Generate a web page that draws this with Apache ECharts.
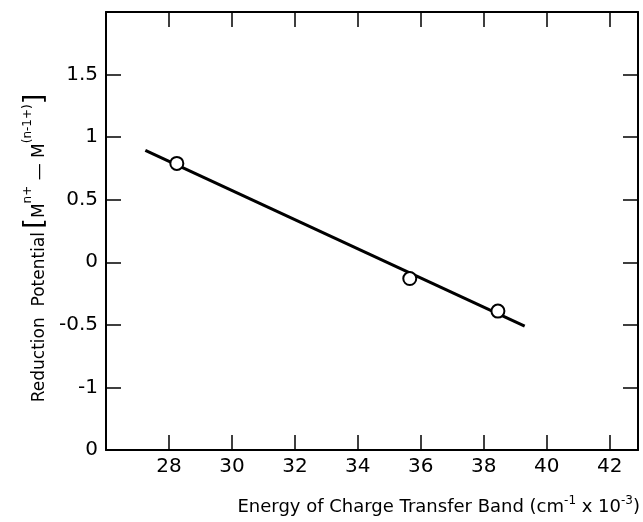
<!DOCTYPE html>
<html>
<head>
<meta charset="utf-8">
<script src="https://cdn.jsdelivr.net/npm/echarts@6/dist/echarts.min.js"></script>
<style>html,body{margin:0;padding:0;background:#fff}#c{width:643px;height:522px}</style>
</head>
<body>
<div id="c"></div>
<script>
// Data
const pointX = [28.25, 35.65, 38.45];
const pointY = [0.79, -0.13, -0.39];
const lineX = [27.25, 39.3];
const lineY = [0.895, -0.51];
const xTickValues = [28, 30, 32, 34, 36, 38, 40, 42];
const yTickValues = [-1.5, -1, -0.5, 0, 0.5, 1, 1.5];
const yTickLabels = ['0', '-1', '-0.5', '0', '0.5', '1', '1.5'];

const FONT = 'DejaVu Sans, Verdana, sans-serif';
const chart = echarts.init(document.getElementById('c'), null, {renderer: 'canvas'});

const axisLine = {show: true, onZero: false, lineStyle: {color: '#000', width: 2}};
const tick = {show: true, inside: true, length: 15, lineStyle: {color: '#000', width: 1.5}};

function yFmt(v) {
  const i = yTickValues.findIndex(t => Math.abs(t - v) < 1e-9);
  return i >= 0 ? yTickLabels[i] : '';
}
function xFmt(v) {
  const i = xTickValues.findIndex(t => Math.abs(t - v) < 1e-9);
  return i >= 0 ? String(xTickValues[i]) : '';
}

chart.setOption({
  backgroundColor: '#fff',
  animation: false,
  grid: {left: 106, top: 12, right: 5, bottom: 72, containLabel: false},
  xAxis: [
    {type: 'value', min: 26, max: 42.9, interval: 2, position: 'bottom',
     axisLine, axisTick: tick, splitLine: {show: false},
     axisLabel: {show: true, color: '#000', fontSize: 20, fontFamily: FONT, margin: 7,
       showMinLabel: false, showMaxLabel: false, formatter: xFmt}},
    {type: 'value', min: 26, max: 42.9, interval: 2, position: 'top',
     axisLine, axisTick: tick, splitLine: {show: false}, axisLabel: {show: false}}
  ],
  yAxis: [
    {type: 'value', min: -1.5, max: 2.0, interval: 0.5, position: 'left',
     axisLine, axisTick: tick, splitLine: {show: false},
     axisLabel: {show: true, color: '#000', fontSize: 20, fontFamily: FONT, margin: 8,
       showMaxLabel: false, formatter: yFmt}},
    {type: 'value', min: -1.5, max: 2.0, interval: 0.5, position: 'right',
     axisLine, axisTick: tick, splitLine: {show: false}, axisLabel: {show: false}}
  ],
  graphic: [
    {type: 'text', x: 35, y: 248, rotation: Math.PI / 2, z: 10,
     style: {
       text: '{t|Reduction  Potential} {b|[}{t|M}{s|n+}{t| — M}{s|(n-1+)}{b|]}',
       align: 'center', verticalAlign: 'middle', fill: '#000',
       rich: {
         t: {fontSize: 17, fontFamily: FONT, fill: '#000', verticalAlign: 'bottom'},
         s: {fontSize: 12, fontFamily: FONT, fill: '#000', verticalAlign: 'top', padding: [0, 0, 14, 0]},
         b: {fontSize: 27, fontFamily: FONT, fill: '#000'}
       }
     }},
    {type: 'text', x: 640, y: 507, z: 10,
     style: {
       text: '{t|Energy of Charge Transfer Band (cm}{s|-1}{t| x 10}{s|-3}{t|)}',
       align: 'right', verticalAlign: 'middle', fill: '#000',
       rich: {
         t: {fontSize: 18, fontFamily: FONT, fill: '#000'},
         s: {fontSize: 12, fontFamily: FONT, fill: '#000', padding: [0, 0, 12, 0]}
       }
     }}
  ],
  series: [
    {type: 'line', data: lineX.map((x, i) => [x, lineY[i]]), showSymbol: false,
     lineStyle: {color: '#000', width: 3}, z: 2, silent: true},
    {type: 'scatter', data: pointX.map((x, i) => [x, pointY[i]]), symbol: 'circle', symbolSize: 13,
     itemStyle: {color: '#fff', borderColor: '#000', borderWidth: 2, opacity: 1}, z: 3}
  ]
});
</script>
</body>
</html>
